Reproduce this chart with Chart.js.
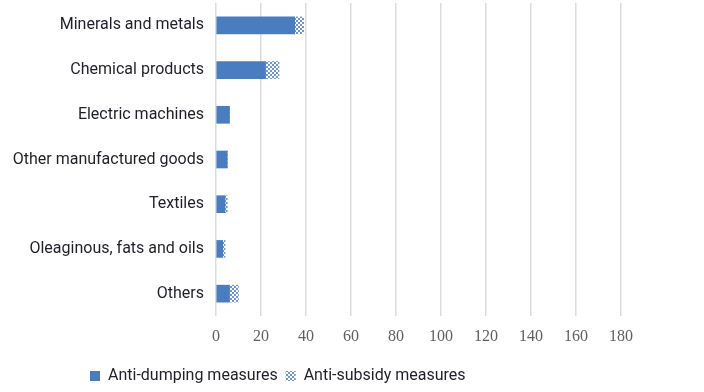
<!DOCTYPE html>
<html>
<head>
<meta charset="utf-8">
<script src="https://cdn.jsdelivr.net/npm/chart.js@4/dist/chart.umd.min.js"></script>
<style>
  body { margin: 0; background: #fff; }
  #wrap { width: 704px; height: 392px; }
</style>
</head>
<body>
<div id="wrap"><canvas id="chart" width="704" height="392"></canvas></div>
<script>
var categorias = ['Minerals and metals', 'Chemical products', 'Electric machines', 'Other manufactured goods', 'Textiles', 'Oleaginous, fats and oils', 'Others'];
var antiDumping = [35, 22, 6, 5, 4, 3, 6];
var antiSubsidy = [4, 6, 0, 0, 1, 1, 4];
var escalaX = { min: 0, max: 180, step: 20 };

var azul = '#4a7dbf';

// checkered fill for the anti-subsidy bars
function padrao() {
    var c = document.createElement('canvas');
    c.width = 4;
    c.height = 4;
    var g = c.getContext('2d');
    g.fillStyle = '#ffffff';
    g.fillRect(0, 0, 4, 4);
    g.fillStyle = '#6e96d0';
    g.fillRect(0, 0, 2, 2);
    g.fillRect(2, 2, 2, 2);
    return g.createPattern(c, 'repeat');
}

// move the legend to where the original sits
var moverLegenda = {
    id: 'moverLegenda',
    afterLayout: function (chart) {
        var lg = chart.legend;
        var h = lg.bottom - lg.top;
        lg.left = 82;
        lg.top = 360;
        lg.bottom = lg.top + h;
    }
};

var ct = document.getElementById('chart');

var grafico = new Chart(ct, {
    type: 'bar',
    data: {
        labels: categorias,
        datasets: [{
            label: 'Anti-dumping measures',
            data: antiDumping,
            backgroundColor: azul,
            borderWidth: 0,
            barThickness: 17
        },
        {
            label: 'Anti-subsidy measures',
            data: antiSubsidy,
            backgroundColor: padrao(),
            borderWidth: 0,
            barThickness: 17
        }]
    },
    plugins: [moverLegenda],
    options: {
        indexAxis: 'y',
        responsive: false,
        animation: false,
        layout: {
            padding: { left: 0, right: 83, top: 3, bottom: 0 }
        },
        scales: {
            x: {
                stacked: true,
                min: escalaX.min,
                max: escalaX.max,
                afterFit: function (s) { s.height = 42; },
                ticks: {
                    stepSize: escalaX.step,
                    padding: 11,
                    color: '#5f5f5f',
                    font: { family: '"Liberation Serif", serif', size: 16 }
                },
                grid: { color: '#dcdcdc', lineWidth: 1.5, drawTicks: false },
                border: { display: false }
            },
            y: {
                stacked: true,
                afterFit: function (s) {
                    s.width = 216;
                    s.paddingTop = 0;
                    s.paddingBottom = 0;
                },
                ticks: {
                    padding: 4,
                    color: '#1f1f2a',
                    font: { family: 'Roboto, sans-serif', size: 16 }
                },
                grid: { display: false },
                border: { display: false }
            }
        },
        plugins: {
            tooltip: { enabled: false },
            legend: {
                position: 'bottom',
                align: 'start',
                labels: {
                    boxWidth: 10,
                    boxHeight: 10,
                    padding: 8,
                    color: '#1f1f2a',
                    font: { family: 'Roboto, sans-serif', size: 16 }
                }
            }
        }
    }
});
</script>
</body>
</html>
